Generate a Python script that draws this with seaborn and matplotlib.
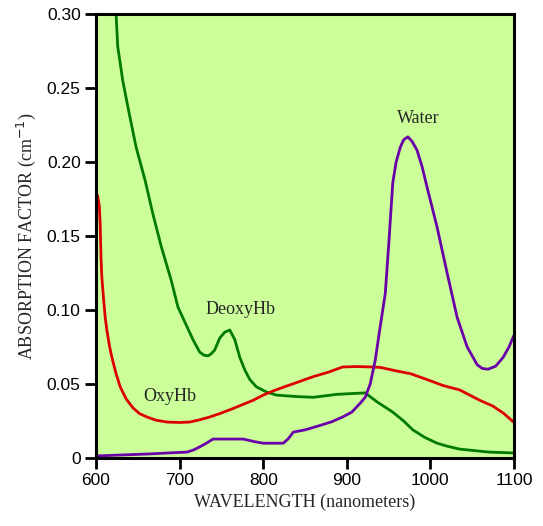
import numpy as np
import pandas as pd
import matplotlib
matplotlib.use("Agg")
import matplotlib.pyplot as plt
import seaborn as sns

# wavelengths (nm) and absorption factors
deoxy_wl = [624, 626, 632, 640, 648, 659, 668, 678, 690, 698, 709, 716, 724, 729,
            734, 738, 742, 748, 754, 760, 766, 772, 778, 784, 792, 804, 816, 840, 860, 888, 922, 936, 955,
            968, 979, 993, 1008, 1020, 1035, 1070, 1100]
deoxy_abs = [0.300, 0.278, 0.255, 0.232, 0.210, 0.187, 0.165, 0.143, 0.120, 0.102, 0.0885, 0.080, 0.0716,
             0.0695, 0.069, 0.0705, 0.073, 0.081, 0.085, 0.0865, 0.080,
             0.068, 0.0595, 0.053, 0.048, 0.0446, 0.0425, 0.0415, 0.041, 0.043, 0.044, 0.038, 0.031, 0.025,
             0.019, 0.014, 0.010, 0.008, 0.006, 0.004, 0.0034]

oxy_wl = [600, 602, 604, 605, 606, 607, 609, 611, 613, 616, 619, 624, 629, 636, 644, 652, 661, 672, 685, 700,
          712, 724, 736, 748, 762, 775, 788, 800, 815, 830, 845, 860, 878, 895, 912, 931, 940, 958, 976, 996,
          1015, 1035, 1059, 1075, 1088, 1100]
oxy_abs = [0.179, 0.177, 0.170, 0.158, 0.135, 0.122, 0.108, 0.095, 0.0865, 0.076, 0.068, 0.057, 0.048, 0.040,
           0.034, 0.030, 0.0277, 0.0255, 0.0243, 0.0240, 0.0243, 0.0258, 0.0277, 0.030, 0.033, 0.036, 0.039,
           0.0425, 0.046, 0.049, 0.052, 0.055, 0.058, 0.0615, 0.0618, 0.0615, 0.0612, 0.059, 0.057, 0.053,
           0.049, 0.046, 0.039, 0.035, 0.030, 0.024]

water_wl = [600, 662, 690, 709, 717, 724, 732, 740, 776, 790, 800, 824, 830, 836, 850, 868, 882, 895, 906, 916,
            922, 928, 934, 940, 946, 950, 955, 959, 964, 968, 973, 978, 984, 990, 996, 1008, 1020, 1032, 1044,
            1056, 1062, 1069, 1078, 1087, 1094, 1100]
water_abs = [0.0014, 0.0027, 0.0035, 0.004, 0.0055, 0.0075, 0.010, 0.0128, 0.0128, 0.011, 0.010, 0.010,
             0.013, 0.0175, 0.019, 0.022, 0.0245, 0.0277, 0.031, 0.037, 0.041, 0.050, 0.066, 0.089, 0.111,
             0.143, 0.186, 0.200, 0.210, 0.215, 0.217, 0.214, 0.208, 0.197, 0.183, 0.156, 0.125, 0.095, 0.075,
             0.063, 0.0605, 0.060, 0.062, 0.068, 0.075, 0.083]

x_ticks = [600, 700, 800, 900, 1000, 1100]
y_ticks = [0, 0.05, 0.10, 0.15, 0.20, 0.25, 0.30]
y_labels = ["0", "0.05", "0.10", "0.15", "0.20", "0.25", "0.30"]

sns.set_style("ticks")
plt.rcParams["font.family"] = ["Liberation Sans", "DejaVu Sans"]

fig = plt.figure(figsize=(5.43, 5.26), dpi=100)
ax = fig.add_axes([96 / 543, 68 / 526, 418 / 543, 444 / 526])
ax.set_facecolor("#ccff99")

series = [(deoxy_wl, deoxy_abs, "#007a00"),
          (oxy_wl, oxy_abs, "#dd0000"),
          (water_wl, water_abs, "#6a00a8")]
for wl, ab, col in series:
    df = pd.DataFrame({"wl": wl, "abs": ab})
    sns.lineplot(data=df, x="wl", y="abs", color=col, linewidth=2, ax=ax, sort=False)

ax.set_xlim(600, 1100)
ax.set_ylim(0, 0.30)
ax.set_xticks(x_ticks)
ax.set_yticks(y_ticks)
ax.set_yticklabels(y_labels)
ax.tick_params(axis="both", direction="out", length=8, width=2, labelsize=12.5, pad=3, colors="black")
for s in ax.spines.values():
    s.set_linewidth(2.2)
    s.set_color("black")

serif = ["Liberation Serif", "DejaVu Serif"]
ax.set_xlabel("WAVELENGTH (nanometers)", fontsize=13, family=serif, labelpad=4)
ax.set_ylabel("ABSORPTION FACTOR (cm$^{-1}$)", fontsize=13, family=serif, labelpad=6)

ax.text(985, 0.2295, "Water", fontsize=13, family=serif, ha="center", va="center")
ax.text(773, 0.1005, "DeoxyHb", fontsize=13, family=serif, ha="center", va="center")
ax.text(688, 0.0415, "OxyHb", fontsize=13, family=serif, ha="center", va="center")

fig.savefig("out.png", dpi=100, facecolor="white")
